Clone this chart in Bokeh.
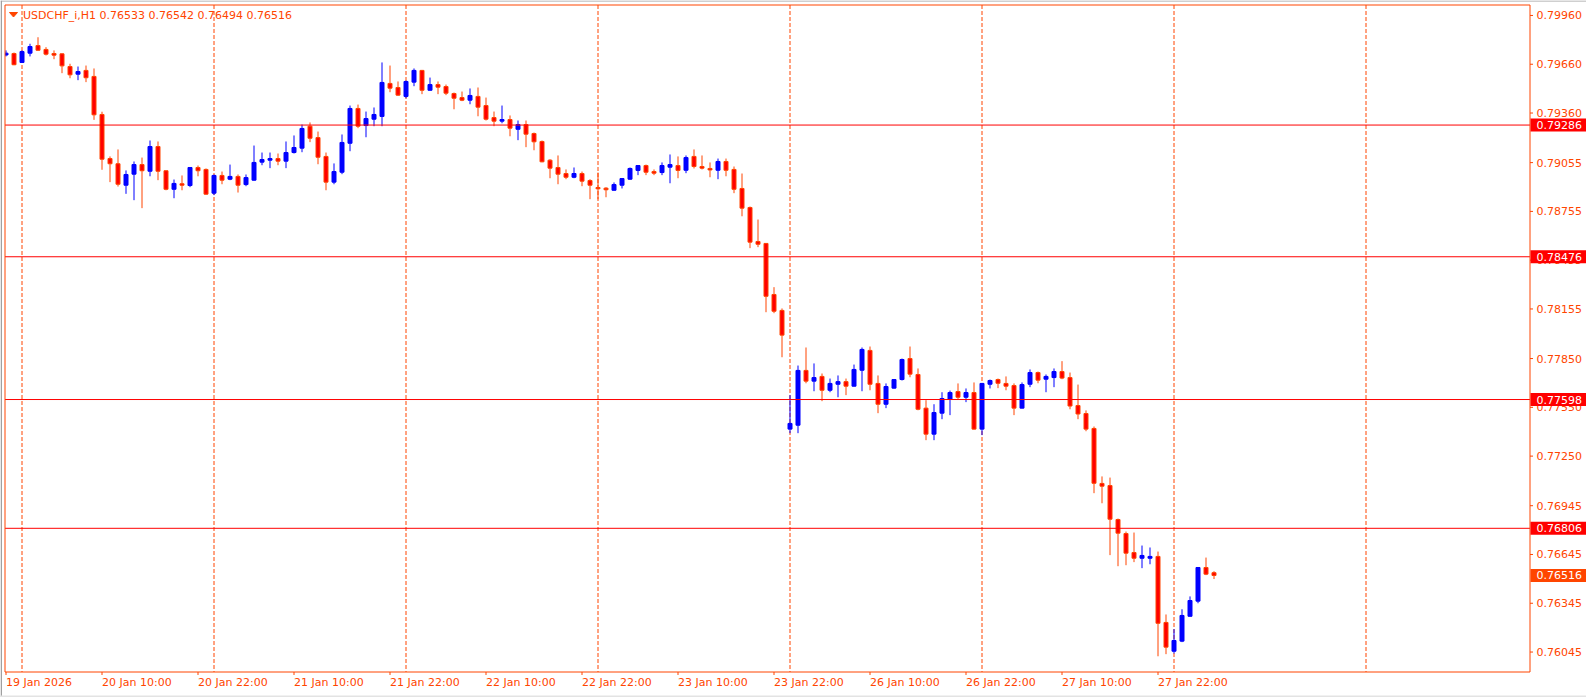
from bokeh.plotting import figure
from bokeh.models import Range1d, ColumnDataSource
from bokeh.embed import file_html
from bokeh.resources import INLINE
from bokeh.core.properties import value

# ---------------- data (USDCHF_i, H1) ----------------
opens = [0.79717, 0.79726, 0.79671, 0.79728, 0.79775, 0.79751, 0.79726, 0.79724, 0.79646, 0.79599,
         0.79622, 0.79585, 0.79351, 0.79080, 0.79048, 0.78916, 0.78984, 0.79043, 0.79002, 0.79154,
         0.79005, 0.78891, 0.78925, 0.78914, 0.79025, 0.79013, 0.78867, 0.78976, 0.78953, 0.78970,
         0.78920, 0.78947, 0.79058, 0.79070, 0.79080, 0.79064, 0.79117, 0.79144, 0.79279, 0.79209,
         0.79093, 0.78935, 0.78996, 0.79174, 0.79388, 0.79283, 0.79322, 0.79339, 0.79542, 0.79517,
         0.79462, 0.79550, 0.79622, 0.79500, 0.79535, 0.79523, 0.79480, 0.79455, 0.79439, 0.79462,
         0.79406, 0.79332, 0.79310, 0.79320, 0.79260, 0.79289, 0.79234, 0.79185, 0.79070, 0.79025,
         0.78988, 0.78965, 0.78988, 0.78945, 0.78902, 0.78898, 0.78885, 0.78916, 0.78953, 0.79007,
         0.79037, 0.79000, 0.78994, 0.79027, 0.79037, 0.79008, 0.79093, 0.79031, 0.79019, 0.79008,
         0.79062, 0.79013, 0.78896, 0.78779, 0.78570, 0.78558, 0.78244, 0.78146, 0.77416, 0.77440,
         0.77777, 0.77711, 0.77740, 0.77655, 0.77692, 0.77708, 0.77680, 0.77778, 0.77900, 0.77697,
         0.77569, 0.77668, 0.77721, 0.77850, 0.77752, 0.77545, 0.77385, 0.77514, 0.77600, 0.77647,
         0.77612, 0.77641, 0.77416, 0.77692, 0.77721, 0.77697, 0.77684, 0.77545, 0.77692, 0.77764,
         0.77723, 0.77733, 0.77770, 0.77733, 0.77561, 0.77512, 0.77420, 0.77082, 0.77069, 0.76860,
         0.76774, 0.76657, 0.76622, 0.76622, 0.76633, 0.76227, 0.76050, 0.76112, 0.76265, 0.76358,
         0.76565, 0.76533]
highs = [0.79745, 0.79732, 0.79745, 0.79786, 0.79826, 0.79765, 0.79745, 0.79726, 0.79663, 0.79646,
         0.79652, 0.79634, 0.79368, 0.79093, 0.79136, 0.79007, 0.79062, 0.79086, 0.79191, 0.79185,
         0.79005, 0.78951, 0.78976, 0.79025, 0.79037, 0.79019, 0.78982, 0.79000, 0.79043, 0.78982,
         0.78982, 0.79160, 0.79117, 0.79117, 0.79111, 0.79185, 0.79222, 0.79289, 0.79302, 0.79246,
         0.79117, 0.79050, 0.79228, 0.79406, 0.79412, 0.79369, 0.79394, 0.79671, 0.79652, 0.79554,
         0.79560, 0.79634, 0.79625, 0.79578, 0.79554, 0.79535, 0.79486, 0.79492, 0.79511, 0.79517,
         0.79455, 0.79369, 0.79406, 0.79345, 0.79314, 0.79314, 0.79240, 0.79191, 0.79076, 0.79099,
         0.79013, 0.79025, 0.79000, 0.78953, 0.78994, 0.78904, 0.78933, 0.78960, 0.79025, 0.79040,
         0.79043, 0.79013, 0.79056, 0.79105, 0.79093, 0.79099, 0.79136, 0.79099, 0.79056, 0.79080,
         0.79080, 0.79031, 0.78988, 0.78785, 0.78705, 0.78560, 0.78289, 0.78158, 0.77625, 0.77807,
         0.77918, 0.77820, 0.77758, 0.77727, 0.77746, 0.77727, 0.77813, 0.77918, 0.77924, 0.77746,
         0.77697, 0.77723, 0.77850, 0.77924, 0.77789, 0.77594, 0.77569, 0.77643, 0.77653, 0.77697,
         0.77666, 0.77703, 0.77700, 0.77721, 0.77727, 0.77740, 0.77697, 0.77703, 0.77783, 0.77770,
         0.77752, 0.77789, 0.77834, 0.77764, 0.77690, 0.77531, 0.77432, 0.77125, 0.77118, 0.76866,
         0.76786, 0.76780, 0.76700, 0.76688, 0.76663, 0.76276, 0.76186, 0.76308, 0.76387, 0.76567,
         0.76626, 0.76542]
lows = [0.79708, 0.79654, 0.79668, 0.79708, 0.79743, 0.79714, 0.79691, 0.79605, 0.79574, 0.79562,
        0.79550, 0.79318, 0.79011, 0.78935, 0.78908, 0.78863, 0.78824, 0.78775, 0.78971, 0.78947,
        0.78885, 0.78836, 0.78885, 0.78904, 0.78971, 0.78858, 0.78855, 0.78922, 0.78947, 0.78871,
        0.78910, 0.78944, 0.79039, 0.79021, 0.79039, 0.79021, 0.79111, 0.79119, 0.79181, 0.79045,
        0.78885, 0.78922, 0.78984, 0.79125, 0.79267, 0.79211, 0.79279, 0.79279, 0.79488, 0.79466,
        0.79451, 0.79525, 0.79476, 0.79498, 0.79476, 0.79470, 0.79383, 0.79433, 0.79414, 0.79340,
        0.79314, 0.79279, 0.79297, 0.79217, 0.79193, 0.79150, 0.79131, 0.79057, 0.78959, 0.78922,
        0.78953, 0.78959, 0.78910, 0.78830, 0.78830, 0.78842, 0.78883, 0.78896, 0.78950, 0.78978,
        0.78978, 0.78978, 0.78978, 0.78928, 0.78959, 0.78990, 0.79019, 0.79013, 0.78965, 0.78953,
        0.78971, 0.78867, 0.78725, 0.78529, 0.78535, 0.78135, 0.78129, 0.77858, 0.77391, 0.77391,
        0.77698, 0.77649, 0.77588, 0.77643, 0.77612, 0.77625, 0.77678, 0.77649, 0.77655, 0.77514,
        0.77545, 0.77665, 0.77715, 0.77735, 0.77532, 0.77348, 0.77348, 0.77477, 0.77502, 0.77600,
        0.77582, 0.77413, 0.77379, 0.77666, 0.77668, 0.77655, 0.77502, 0.77543, 0.77674, 0.77698,
        0.77643, 0.77674, 0.77723, 0.77538, 0.77477, 0.77403, 0.77022, 0.76960, 0.76641, 0.76573,
        0.76579, 0.76598, 0.76561, 0.76585, 0.76019, 0.76032, 0.76036, 0.76106, 0.76263, 0.76345,
        0.76518, 0.76494]
closes = [0.79728, 0.79657, 0.79738, 0.79769, 0.79746, 0.79722, 0.79716, 0.79650, 0.79595, 0.79615,
          0.79577, 0.79349, 0.79076, 0.79048, 0.78922, 0.78982, 0.79043, 0.79005, 0.79154, 0.79002,
          0.78891, 0.78927, 0.78916, 0.79025, 0.79005, 0.78861, 0.78976, 0.78947, 0.78970, 0.78916,
          0.78963, 0.79056, 0.79074, 0.79080, 0.79064, 0.79117, 0.79148, 0.79265, 0.79205, 0.79088,
          0.78935, 0.79000, 0.79179, 0.79388, 0.79279, 0.79326, 0.79351, 0.79548, 0.79513, 0.79470,
          0.79554, 0.79622, 0.79500, 0.79535, 0.79519, 0.79482, 0.79451, 0.79439, 0.79468, 0.79396,
          0.79322, 0.79310, 0.79320, 0.79267, 0.79289, 0.79230, 0.79183, 0.79060, 0.79021, 0.78984,
          0.78965, 0.78988, 0.78941, 0.78916, 0.78894, 0.78888, 0.78920, 0.78957, 0.79019, 0.79037,
          0.78996, 0.78990, 0.79037, 0.79043, 0.79007, 0.79086, 0.79031, 0.79021, 0.79010, 0.79062,
          0.79008, 0.78891, 0.78775, 0.78566, 0.78553, 0.78233, 0.78141, 0.77994, 0.77451, 0.77777,
          0.77711, 0.77733, 0.77655, 0.77697, 0.77708, 0.77680, 0.77783, 0.77906, 0.77692, 0.77569,
          0.77678, 0.77721, 0.77844, 0.77754, 0.77538, 0.77385, 0.77518, 0.77604, 0.77641, 0.77612,
          0.77641, 0.77416, 0.77697, 0.77715, 0.77698, 0.77680, 0.77545, 0.77690, 0.77764, 0.77717,
          0.77740, 0.77770, 0.77730, 0.77558, 0.77509, 0.77416, 0.77083, 0.77065, 0.76862, 0.76776,
          0.76653, 0.76622, 0.76639, 0.76633, 0.76222, 0.76075, 0.76116, 0.76270, 0.76362, 0.76565,
          0.76524, 0.76516]

time_tick_bars = [0, 12, 24, 36, 48, 60, 72, 84, 96, 108, 120, 132, 144]
time_tick_labels = ["19 Jan 2026", "20 Jan 10:00", "20 Jan 22:00", "21 Jan 10:00", "21 Jan 22:00",
                    "22 Jan 10:00", "22 Jan 22:00", "23 Jan 10:00", "23 Jan 22:00", "26 Jan 10:00",
                    "26 Jan 22:00", "27 Jan 10:00", "27 Jan 22:00"]
day_separator_bars = [2, 26, 50, 74, 98, 122, 146, 170]
price_ticks = [0.79960, 0.79660, 0.79360, 0.79055, 0.78755, 0.78455, 0.78155,
               0.77850, 0.77550, 0.77250, 0.76945, 0.76645, 0.76345, 0.76045]
level_lines = [0.79286, 0.78476, 0.77598, 0.76806]
symbol_title = "USDCHF_i,H1"
last_bar_ohlc = ["0.76533", "0.76542", "0.76494", "0.76516"]
last_bid = 0.76516

# ---------------- layout / style ----------------
W, H = 1586, 697
BAR_PX = 8.0            # pixels per bar
BAR0_PX = 5.5           # pixel centre of the first bar
PRICE_TOP = 0.80052     # price at the top pixel row
PRICE_PER_PX = 0.0000615

ORANGE = "#FF4500"
RED = "#FF0000"
BULL = "#0000FF"
FONT = value("DejaVu Sans")


def bx(px):
    return (px - BAR0_PX) / BAR_PX


def py(px):
    return PRICE_TOP - PRICE_PER_PX * px


FR_L, FR_R, FR_T, FR_B = 4.5, 1529.5, 4.5, 671.5

p = figure(width=W, height=H, output_backend="svg", toolbar_location=None,
           x_range=Range1d(bx(0), bx(W)), y_range=Range1d(py(H), py(0)),
           x_axis_type=None, y_axis_type=None,
           min_border=0, min_border_left=0, min_border_right=0,
           min_border_top=0, min_border_bottom=0,
           background_fill_color="white", border_fill_color="white",
           outline_line_color=None)
p.grid.visible = False

# day separators
p.segment(x0=day_separator_bars, x1=day_separator_bars,
          y0=[py(FR_T)] * len(day_separator_bars), y1=[py(FR_B)] * len(day_separator_bars),
          line_color=ORANGE, line_width=1, line_dash="4 2")

# candles
bar_index = list(range(len(opens)))
up = [c > o for o, c in zip(opens, closes)]
src = ColumnDataSource(dict(
    x=bar_index, high=highs, low=lows,
    top=[max(o, c) for o, c in zip(opens, closes)],
    bottom=[min(o, c) for o, c in zip(opens, closes)],
    fill=[BULL if u else RED for u in up],
    line=[BULL if u else ORANGE for u in up],
))
p.segment(x0="x", y0="low", x1="x", y1="high", line_color="line", line_width=1, source=src)
p.vbar(x="x", top="top", bottom="bottom", width=0.5, fill_color="fill",
       line_color="line", line_width=1, source=src)

# horizontal levels
n = len(level_lines)
p.segment(x0=[bx(FR_L)] * n, x1=[bx(FR_R)] * n, y0=level_lines, y1=level_lines,
          line_color=RED, line_width=1)

# mask outside the chart frame on the left, then frame
p.quad(left=bx(0), right=bx(FR_L), top=py(0), bottom=py(H), fill_color="white", line_color=None)
p.quad(left=bx(FR_L), right=bx(FR_R), top=py(FR_T), bottom=py(FR_B),
       fill_color=None, line_color=ORANGE, line_width=1)
# window edges
p.quad(left=bx(0), right=bx(1.5), top=py(0), bottom=py(H), fill_color="#A0A0A0", line_color=None)
p.quad(left=bx(0), right=bx(W), top=py(0), bottom=py(1), fill_color="#A0A0A0", line_color=None)
p.quad(left=bx(0), right=bx(W), top=py(H - 2), bottom=py(H), fill_color="#E3E3E3", line_color=None)

# price scale: ticks + labels
m = len(price_ticks)
p.segment(x0=[bx(FR_R)] * m, x1=[bx(FR_R + 3)] * m, y0=price_ticks, y1=price_ticks,
          line_color=ORANGE, line_width=1)
p.text(x=[bx(1536)] * m, y=price_ticks, text=["%.5f" % v for v in price_ticks],
       text_color=ORANGE, text_font=FONT, text_font_size="11px",
       text_align="left", text_baseline="middle")

# price boxes for levels and bid
box_prices = level_lines + [last_bid]
box_colors = [RED] * n + [ORANGE]
half_box = 6.5 * PRICE_PER_PX
p.quad(left=[bx(1530)] * len(box_prices), right=[bx(W)] * len(box_prices),
       top=[v + half_box for v in box_prices], bottom=[v - half_box for v in box_prices],
       fill_color=box_colors, line_color=None)
p.text(x=[bx(1536)] * len(box_prices), y=box_prices, text=["%.5f" % v for v in box_prices],
       text_color="white", text_font=FONT, text_font_size="11px",
       text_align="left", text_baseline="middle")

# time scale: ticks + labels (left aligned at tick)
k = len(time_tick_bars)
p.segment(x0=time_tick_bars, x1=time_tick_bars, y0=[py(FR_B)] * k, y1=[py(FR_B + 3)] * k,
          line_color=ORANGE, line_width=1)
p.text(x=time_tick_bars, y=[py(682)] * k, text=time_tick_labels,
       text_color=ORANGE, text_font=FONT, text_font_size="11px",
       text_align="left", text_baseline="middle")

# header
p.patch(x=[bx(9), bx(17), bx(13)], y=[py(12), py(12), py(16.5)], fill_color=ORANGE, line_color=ORANGE)
p.text(x=[bx(22.5)], y=[py(14.5)], text=[symbol_title + "   " + " ".join(last_bar_ohlc)],
       text_color=ORANGE, text_font=FONT, text_font_size="11px",
       text_align="left", text_baseline="middle")

open("out.html", "w").write(file_html(p, INLINE))
